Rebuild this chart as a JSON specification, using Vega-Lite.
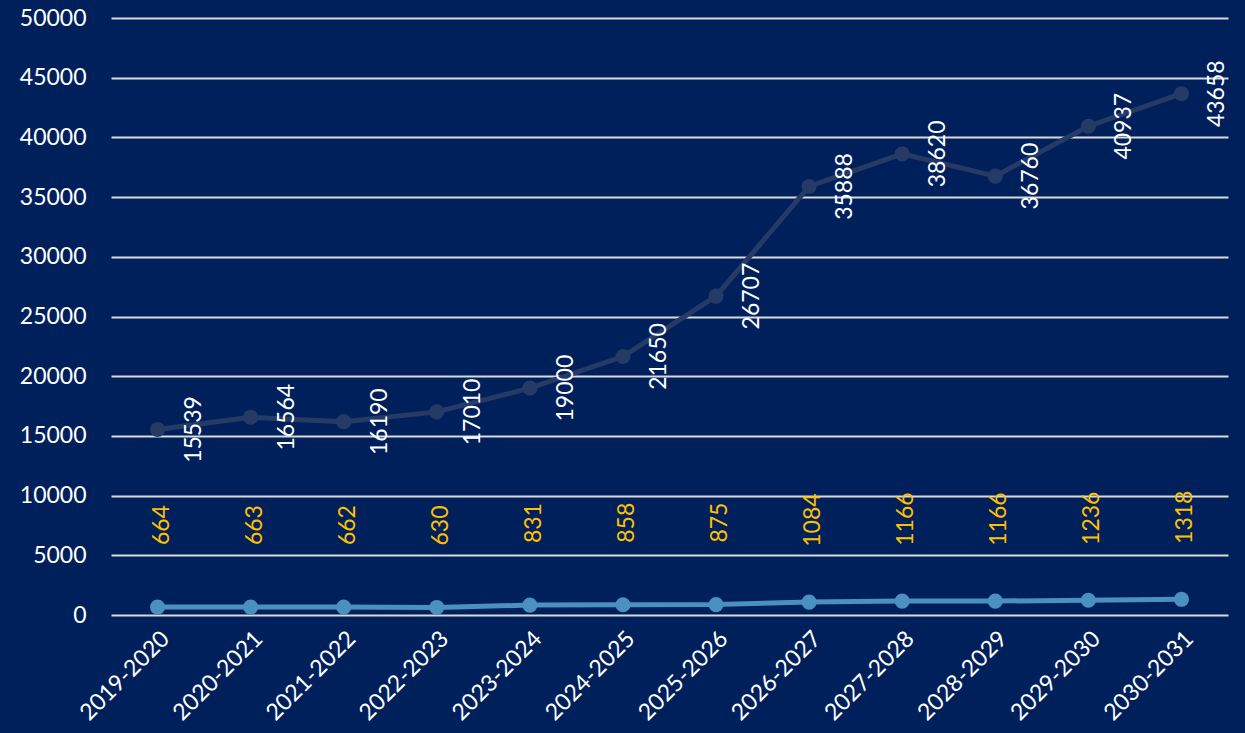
{
  "$schema": "https://vega.github.io/schema/vega-lite/v6.json",
  "autosize": {"type": "none"},
  "padding": {"left": 111, "top": 18, "right": 17, "bottom": 118},
  "width": 1117,
  "height": 597,
  "background": "#00205B",
  "config": {
    "view": {"stroke": null},
    "font": "Lato",
    "axis": {"labelFont": "Lato", "labelColor": "#FFFFFF", "labelFontSize": 23, "domain": false, "ticks": false, "tickSize": 0}
  },
  "data": {
    "values": [
      {"period": "2019-2020", "a": 15539, "b": 664},
      {"period": "2020-2021", "a": 16564, "b": 663},
      {"period": "2021-2022", "a": 16190, "b": 662},
      {"period": "2022-2023", "a": 17010, "b": 630},
      {"period": "2023-2024", "a": 19000, "b": 831},
      {"period": "2024-2025", "a": 21650, "b": 858},
      {"period": "2025-2026", "a": 26707, "b": 875},
      {"period": "2026-2027", "a": 35888, "b": 1084},
      {"period": "2027-2028", "a": 38620, "b": 1166},
      {"period": "2028-2029", "a": 36760, "b": 1166},
      {"period": "2029-2030", "a": 40937, "b": 1236},
      {"period": "2030-2031", "a": 43658, "b": 1318}
    ]
  },
  "encoding": {
    "x": {
      "field": "period", "type": "ordinal", "sort": null,
      "scale": {"type": "point", "padding": 0.5},
      "axis": {"title": null, "labelAngle": -45, "labelPadding": 12, "grid": false, "labelFontSize": 23}
    }
  },
  "layer": [
    {
      "mark": {"type": "line", "color": "#263A66", "strokeWidth": 5, "point": {"filled": true, "size": 230, "color": "#263A66"}},
      "encoding": {
        "y": {
          "field": "a", "type": "quantitative",
          "scale": {"domain": [0, 50000]},
          "axis": {"title": null, "values": [0, 5000, 10000, 15000, 20000, 25000, 30000, 35000, 40000, 45000, 50000], "format": "d", "grid": true, "gridColor": "#D9D9D9", "gridWidth": 2, "labelPadding": 25}
        }
      }
    },
    {
      "mark": {"type": "line", "color": "#4A90C0", "strokeWidth": 5, "point": {"filled": true, "size": 230, "color": "#4A90C0"}},
      "encoding": {"y": {"field": "b", "type": "quantitative"}}
    },
    {
      "mark": {"type": "text", "angle": 270, "align": "center", "baseline": "middle", "dy": 36, "fontSize": 23, "color": "#FFFFFF"},
      "encoding": {"y": {"field": "a", "type": "quantitative"}, "text": {"field": "a", "type": "nominal"}}
    },
    {
      "mark": {"type": "text", "angle": 270, "align": "center", "baseline": "middle", "dx": 82, "dy": 4, "fontSize": 23, "color": "#FFC000"},
      "encoding": {"y": {"field": "b", "type": "quantitative"}, "text": {"field": "b", "type": "nominal"}}
    }
  ]
}
